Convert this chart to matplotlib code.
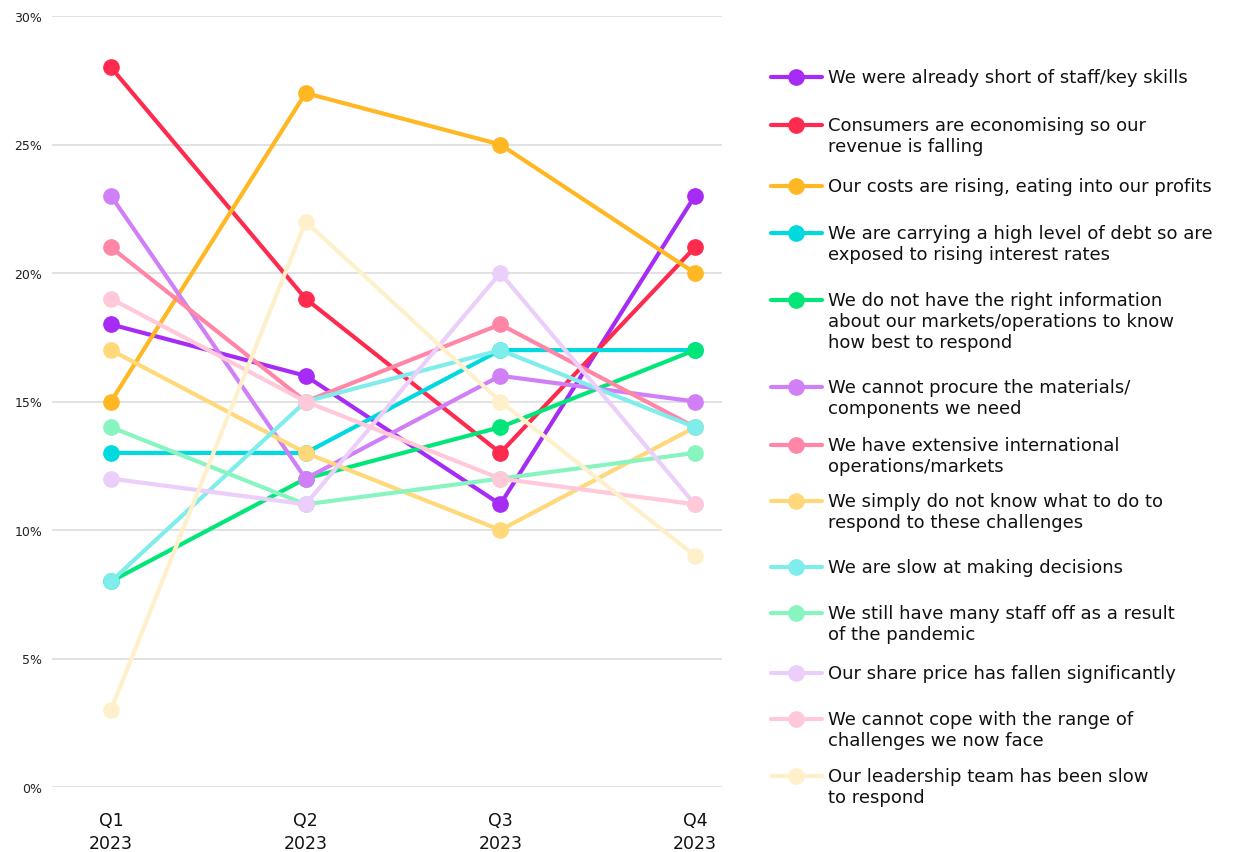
"""Business challenges by quarter, 2023 - line chart with side legend"""
import matplotlib.pyplot as plt
from matplotlib.lines import Line2D

quarters = ['Q1\n2023', 'Q2\n2023', 'Q3\n2023', 'Q4\n2023']

labels = [
    'We were already short of staff/key skills',
    'Consumers are economising so our\nrevenue is falling',
    'Our costs are rising, eating into our profits',
    'We are carrying a high level of debt so are\nexposed to rising interest rates',
    'We do not have the right information\nabout our markets/operations to know\nhow best to respond',
    'We cannot procure the materials/\ncomponents we need',
    'We have extensive international\noperations/markets',
    'We simply do not know what to do to\nrespond to these challenges',
    'We are slow at making decisions',
    'We still have many staff off as a result\nof the pandemic',
    'Our share price has fallen significantly',
    'We cannot cope with the range of\nchallenges we now face',
    'Our leadership team has been slow\nto respond',
]

short_staff = [18, 16, 11, 23]
consumers = [28, 19, 13, 21]
costs = [15, 27, 25, 20]
debt = [13, 13, 17, 17]
information = [8, 12, 14, 17]
procure = [23, 12, 16, 15]
international = [21, 15, 18, 14]
dont_know = [17, 13, 10, 14]
slow_decisions = [8, 15, 17, 14]
staff_off = [14, 11, 12, 13]
share_price = [12, 11, 20, 11]
cope = [19, 15, 12, 11]
leadership = [3, 22, 15, 9]

series = [short_staff, consumers, costs, debt, information, procure,
          international, dont_know, slow_decisions, staff_off, share_price,
          cope, leadership]

colours = ['#A52BF5', '#FF2B4E', '#FFB823', '#00D9DE', '#02E679', '#D07FF7',
           '#FF86A7', '#FFD979', '#7EEDEC', '#88F5C1', '#EBCEFA', '#FFC9DA',
           '#FFF0CC']

# centre of the first line of each legend entry, pixels from figure top
legend_rows = [78, 126, 187, 234, 301, 388, 446, 502, 568, 614, 674, 720, 777]

W, H = 1238, 853

fig = plt.figure(figsize=(W / 100, H / 100), dpi=100)
ax = fig.add_axes([52 / W, 1 - 788 / H, (722 - 52) / W, (788 - 17) / H])

x = range(len(quarters))
for i, (vals, col) in enumerate(zip(series, colours)):
    ax.plot(x, vals, color=col, lw=3, marker='o', ms=11,
            solid_capstyle='round', zorder=3 + i, clip_on=False)

ax.set_xlim(-0.303, 3.139)
ax.set_ylim(0, 30)
ax.set_yticks(range(0, 31, 5))
ax.set_yticklabels(['{}%'.format(v) for v in range(0, 31, 5)],
                   fontsize=9, color='#222222')
ax.set_xticks(list(x))
ax.set_xticklabels(quarters, fontsize=12.5, color='#111111',
                   linespacing=1.4)
ax.tick_params(axis='both', length=0)
ax.tick_params(axis='x', pad=17)
ax.tick_params(axis='y', pad=7)
for lab in ax.get_yticklabels():
    lab.set_verticalalignment('center_baseline')
ax.grid(axis='y', color='#dddddd', lw=1.2)
ax.set_axisbelow(True)
for s in ax.spines.values():
    s.set_visible(False)

# Legend drawn by hand so the handle sits next to the first text line
for lab, col, row in zip(labels, colours, legend_rows):
    yf = 1 - row / H
    fig.add_artist(Line2D([771 / W, 822 / W], [yf, yf], color=col, lw=3,
                          solid_capstyle='round'))
    fig.add_artist(Line2D([796 / W], [yf], color=col, marker='o', ms=11))
    fig.text(828 / W, yf + 9 / H, lab, ha='left', va='top', fontsize=13,
             color='#111111', linespacing=1.22)

fig.savefig('out.png', dpi=100)
